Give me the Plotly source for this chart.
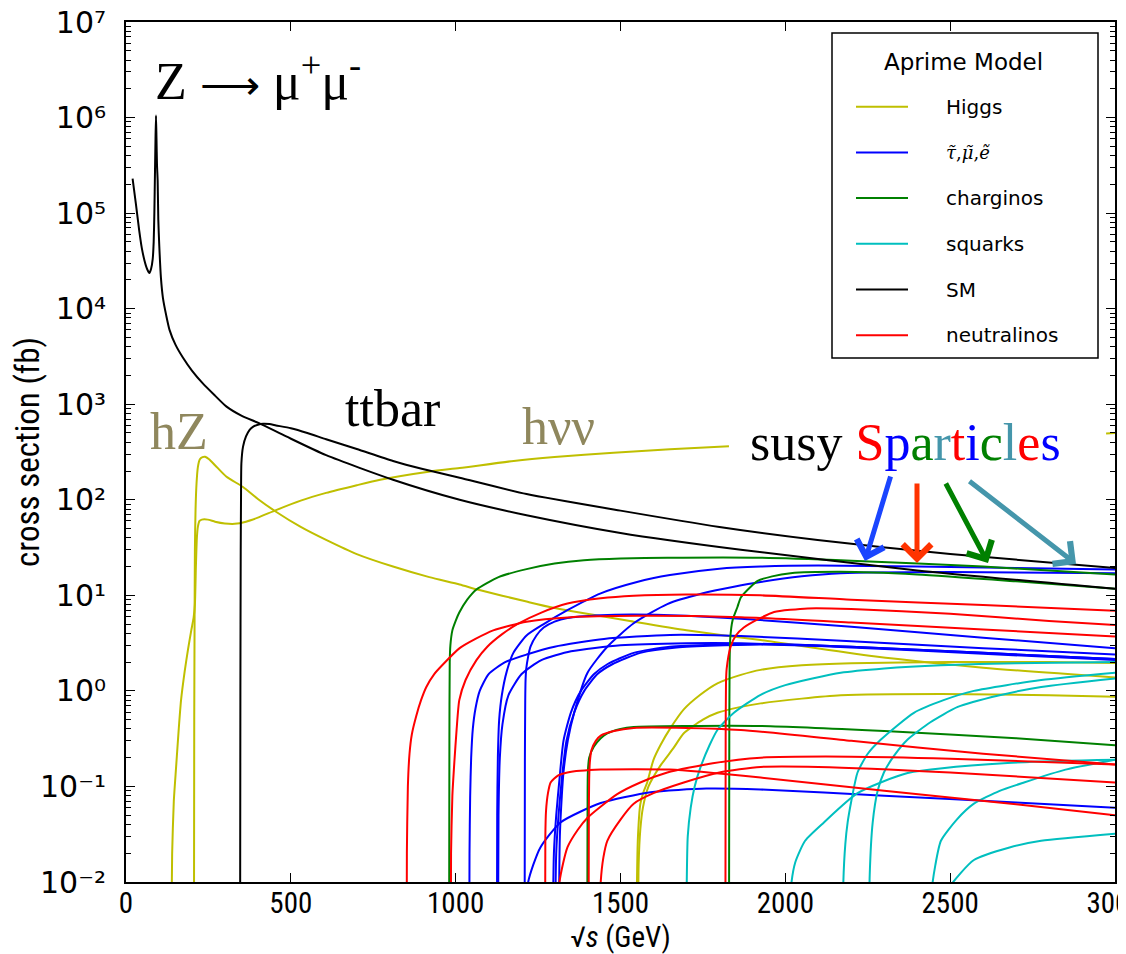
import plotly.graph_objects as go

# ---------------- data (sqrt(s) in GeV, cross section in fb) ----------------
# Standard Model
sm_zmumu = [(20, 2.3e5), (30, 1.25e5), (40, 6.6e4), (48, 4.3e4), (56, 3.2e4), (64, 2.6e4), (71, 2.36e4),
            (76, 2.6e4), (81, 3.3e4), (84, 5e4), (86, 1e5), (88, 2.8e5), (89.5, 6e5), (91, 1.05e6),
            (92.5, 6e5), (94, 3.2e5), (96, 2.2e5), (98, 8.5e4), (101, 4.5e4), (106, 2.1e4), (112, 1.3e4),
            (122, 8500), (132, 6000), (150, 4200), (172, 3100), (200, 2250), (233, 1650), (270, 1230),
            (304, 950), (350, 760), (405, 630), (486, 460), (607, 293), (810, 162), (1012, 100),
            (1215, 69), (1500, 45), (1865, 30), (2400, 18.2), (3000, 11.7)]
sm_ttbar = [(346, 1e-3), (347, 1), (348, 30), (349, 120), (350, 240), (355, 360), (364, 460), (375, 540),
            (385, 580), (400, 610), (416, 625), (435, 620), (455, 600), (500, 560), (550, 500), (607, 430),
            (700, 340), (810, 255), (900, 210), (1012, 170), (1215, 115), (1500, 77), (1800, 52),
            (2098, 38), (2500, 27), (3000, 19.3)]

# Higgs
higgs_hnn = [(136, 1e-3), (140, 0.02), (145, 0.07), (152, 0.16), (160, 0.4), (167, 0.8), (178, 1.6),
             (188, 2.7), (198, 4.3), (205, 5.8), (209, 8), (212, 20), (215, 40), (218, 52), (223, 60),
             (230, 62), (248, 62), (270, 59), (300, 56.5), (330, 56), (364, 59), (400, 65), (455, 78),
             (530, 98), (607, 118), (700, 142), (771, 162), (923, 198), (1012, 215), (1176, 255),
             (1300, 280), (1479, 310), (1650, 338), (1829, 363), (None, None), (2973, 495), (3000, 500)]
higgs_hz = [(206, 1e-3), (207, 0.5), (208, 5), (209, 30), (211, 80), (214, 150), (218, 220), (224, 265),
            (232, 280), (240, 282), (252, 265), (270, 230), (304, 175), (355, 136), (400, 102), (455, 75),
            (530, 52), (607, 38), (700, 27), (810, 20), (920, 15.5), (1012, 13), (1066, 11.5), (1215, 8.6),
            (1297, 7.4), (1540, 5.3), (1700, 4.3), (1925, 3.4), (2268, 2.3), (2600, 1.75), (3000, 1.38)]
higgs_a = [(1549, 1e-3), (1550, 0.01), (1553, 0.03), (1560, 0.065), (1571, 0.09), (1581, 0.11), (1600, 0.19),
           (1621, 0.27), (1650, 0.4), (1692, 0.64), (1740, 0.9), (1794, 1.2), (1865, 1.47), (1925, 1.66),
           (2050, 1.85), (2200, 1.95), (2500, 2.0), (2800, 2.0), (3000, 1.96)]
higgs_b = [(1553, 1e-3), (1555, 0.015), (1560, 0.035), (1568, 0.06), (1585, 0.1), (1621, 0.165), (1660, 0.25),
           (1692, 0.36), (1750, 0.5), (1794, 0.59), (1865, 0.68), (1925, 0.74), (2050, 0.83), (2168, 0.9),
           (2472, 0.93), (2800, 0.9), (3000, 0.87)]

# sleptons
slep_1 = [(1041, 1e-3), (1042, 0.02), (1044, 0.08), (1047, 0.2), (1052, 0.4), (1060, 0.65), (1073, 1.0),
          (1100, 1.5), (1150, 2.0), (1215, 2.4), (1300, 2.9), (1450, 3.5), (1650, 3.85), (1865, 3.75),
          (2200, 3.3), (2600, 2.8), (3000, 2.4)]
slep_2 = [(1125, 1e-3), (1126, 0.05), (1128, 0.2), (1132, 0.5), (1140, 0.9), (1155, 1.6), (1175, 2.5),
          (1215, 3.8), (1267, 5.0), (1339, 7.0), (1440, 10.5), (1550, 13.8), (1650, 16.3), (1800, 19),
          (1925, 20), (2100, 20.5), (2400, 20), (2700, 19.3), (3000, 18.6)]
slep_3 = [(1128, 1e-3), (1130, 0.05), (1134, 0.2), (1142, 0.45), (1160, 0.9), (1200, 1.5), (1260, 2.1),
          (1350, 2.6), (1500, 3.0), (1700, 3.15), (1865, 3.15), (2200, 2.9), (2600, 2.5), (3000, 2.15)]
slep_4 = [(1209, 1e-3), (1210, 0.2), (1211, 0.8), (1212, 1.3), (1214, 1.7), (1220, 2.3), (1227, 2.9),
          (1245, 3.8), (1267, 4.6), (1300, 5.3), (1339, 5.8), (1440, 6.2), (1540, 6.3), (1700, 6.1),
          (1865, 5.7), (2200, 4.7), (2600, 3.6), (3000, 2.8)]
slep_5 = [(1206, 1e-3), (1210, 0.005), (1220, 0.01), (1235, 0.015), (1257, 0.023), (1318, 0.042),
          (1440, 0.067), (1591, 0.087), (1760, 0.095), (1925, 0.093), (2300, 0.08), (2700, 0.068), (3000, 0.06)]
slep_6 = [(1293, 1e-3), (1298, 0.02), (1305, 0.05), (1315, 0.12), (1327, 0.3), (1350, 0.6), (1380, 1.0),
          (1420, 1.5), (1460, 1.9), (1540, 2.5), (1650, 2.9), (1925, 3.1), (2200, 2.9), (2600, 2.5), (3000, 2.15)]
slep_7 = [(1300, 1e-3), (1305, 0.02), (1312, 0.05), (1322, 0.12), (1336, 0.3), (1360, 0.6), (1390, 1.0),
          (1430, 1.5), (1475, 1.9), (1560, 2.5), (1670, 2.85), (1925, 3.05), (2200, 2.85), (2600, 2.45), (3000, 2.1)]
slep_8 = [(1312, 1e-3), (1316, 0.03), (1322, 0.08), (1327, 0.14), (1340, 0.3), (1360, 0.6), (1400, 1.55),
          (1460, 2.9), (1540, 5.1), (1642, 8.1), (1750, 10.5), (1844, 12.3), (1925, 13.8), (2050, 15.8),
          (2168, 17), (2500, 17.5), (3000, 17)]

# charginos
char_1 = [(980, 1e-3), (981, 0.3), (982, 2.0), (984, 3.0), (990, 4.3), (1000, 5.4), (1011, 6.6), (1035, 9),
          (1063, 11.5), (1130, 15.5), (1215, 18.8), (1300, 21.5), (1389, 23.3), (1500, 24.3), (1642, 24.7),
          (1925, 24.7), (2200, 23), (2600, 20), (3000, 16.5)]
char_2 = [(1399, 1e-3), (1400, 0.05), (1401, 0.14), (1405, 0.2), (1419, 0.26), (1440, 0.32), (1460, 0.36),
          (1500, 0.4), (1540, 0.42), (1700, 0.43), (1925, 0.43), (2300, 0.38), (2700, 0.32), (3000, 0.27)]
char_3 = [(1829, 1e-3), (1830, 0.3), (1831, 2), (1833, 3.6), (1840, 5.5), (1855, 7.6), (1865, 9.5),
          (1895, 12.3), (1916, 14.2), (1960, 15.8), (2016, 17), (2168, 17.6), (2400, 16.5), (2700, 14), (3000, 11.7)]

# squarks
sq_1 = [(1700, 1e-3), (1701, 0.01), (1704, 0.03), (1713, 0.06), (1725, 0.1), (1743, 0.16), (1770, 0.27),
        (1794, 0.39), (1844, 0.59), (1925, 0.91), (2000, 1.15), (2168, 1.55), (2300, 1.72), (2472, 1.86),
        (2700, 1.95), (3000, 2.0)]
sq_2 = [(2013, 1e-3), (2016, 0.008), (2030, 0.016), (2060, 0.027), (2117, 0.042), (2219, 0.085),
        (2371, 0.138), (2674, 0.176), (3000, 0.19)]
sq_3 = [(2174, 1e-3), (2176, 0.01), (2182, 0.025), (2189, 0.042), (2200, 0.07), (2219, 0.14), (2250, 0.22),
        (2290, 0.31), (2390, 0.59), (2480, 0.8), (2572, 1.0), (2776, 1.3), (3000, 1.55)]
sq_4 = [(2253, 1e-3), (2256, 0.012), (2265, 0.042), (2280, 0.09), (2299, 0.14), (2330, 0.21), (2371, 0.31),
        (2440, 0.47), (2523, 0.68), (2650, 0.9), (2776, 1.1), (3000, 1.35)]
sq_5 = [(2435, 1e-3), (2440, 0.006), (2455, 0.015), (2472, 0.027), (2520, 0.045), (2572, 0.066),
        (2650, 0.09), (2724, 0.11), (2850, 0.15), (3000, 0.19)]
sq_6 = [(2466, 1e-3), (2475, 0.005), (2500, 0.009), (2572, 0.017), (2680, 0.023), (2776, 0.027), (3000, 0.032)]

# neutralinos
neut_1 = [(851, 1e-3), (852, 0.02), (855, 0.1), (860, 0.22), (867, 0.35), (880, 0.54), (895, 0.8), (911, 1.1),
          (935, 1.5), (962, 1.9), (1012, 2.8), (1060, 3.5), (1114, 4.3), (1215, 5.3), (1350, 5.9), (1550, 6.1),
          (1865, 5.9), (2200, 5.2), (2600, 4.4), (3000, 3.7)]
neut_2 = [(985, 1e-3), (986, 0.02), (990, 0.08), (996, 0.18), (1003, 0.4), (1011, 0.8), (1030, 1.3),
          (1063, 2.1), (1096, 2.9), (1140, 3.9), (1187, 5.0), (1260, 6.6), (1339, 8.2), (1440, 9.3),
          (1540, 9.9), (1700, 10.2), (1925, 10), (2200, 9.0), (2600, 7.9), (3000, 6.9)]
neut_3 = [(1271, 1e-3), (1272, 0.03), (1274, 0.055), (1280, 0.085), (1288, 0.11), (1310, 0.13), (1339, 0.14),
          (1440, 0.15), (1650, 0.15), (1925, 0.124), (2300, 0.09), (2700, 0.065), (3000, 0.05)]
neut_4 = [(1306, 1e-3), (1315, 0.01), (1339, 0.023), (1370, 0.035), (1400, 0.047), (1490, 0.083),
          (1560, 0.11), (1642, 0.14), (1780, 0.175), (1925, 0.2), (2200, 0.205), (2500, 0.195), (3000, 0.17)]
neut_5 = [(1434, 1e-3), (1440, 0.01), (1448, 0.018), (1460, 0.027), (1500, 0.045), (1540, 0.066),
          (1600, 0.085), (1692, 0.11), (1800, 0.14), (1925, 0.16), (2100, 0.16), (2500, 0.14), (3000, 0.11)]
neut_6 = [(1403, 1e-3), (1404, 0.05), (1405, 0.12), (1407, 0.18), (1412, 0.24), (1425, 0.3), (1440, 0.34),
          (1480, 0.38), (1540, 0.41), (1700, 0.41), (1865, 0.39), (2200, 0.3), (2600, 0.22), (3000, 0.17)]
neut_7 = [(1818, 1e-3), (1819, 0.3), (1820, 1.2), (1822, 1.7), (1834, 2.9), (1850, 3.8), (1874, 4.6),
          (1925, 5.8), (1966, 6.7), (2068, 7.3), (2200, 7.2), (2500, 6.4), (2800, 5.4), (3000, 4.9)]

# groups in drawing / legend order
legend_names = ["Higgs", "<i>τ̃</i>,<i>μ̃</i>,<i>ẽ</i>", "charginos", "squarks", "SM", "neutralinos"]
legend_colors = ["#bfbf00", "#0000ff", "#008000", "#00bfbf", "#000000", "#ff0000"]
curve_groups = [
    [higgs_hnn, higgs_hz, higgs_a, higgs_b],
    [slep_1, slep_2, slep_3, slep_4, slep_5, slep_6, slep_7, slep_8],
    [char_1, char_2, char_3],
    [sq_1, sq_2, sq_3, sq_4, sq_5, sq_6],
    [sm_zmumu, sm_ttbar],
    [neut_1, neut_2, neut_3, neut_4, neut_5, neut_6, neut_7],
]

x_ticks = [0, 500, 1000, 1500, 2000, 2500, 3000]
y_exponents = list(range(-2, 8))
SUP = str.maketrans("-0123456789", "⁻⁰¹²³⁴⁵⁶⁷⁸⁹")
y_ticktext = ["10" + str(e).translate(SUP) for e in y_exponents]

# ---------------- figure geometry ----------------
PAGE_OFF = 8                       # default body margin of the html page
W, H = 1126 - PAGE_OFF, 954 - PAGE_OFF
PL, PT, PR, PB = 126, 22, 1115, 882   # plot area in screen pixels
ML, MT = PL - PAGE_OFF, PT - PAGE_OFF
PW, PH = PR - PL, PB - PT
MR, MB = W - ML - PW, H - MT - PH


def px(xp):
    return (xp - PL) / PW


def py(yp):
    return (PB - yp) / PH


fig = go.Figure()
for name, color, group in zip(legend_names, legend_colors, curve_groups):
    for curve in group:
        fig.add_trace(go.Scatter(
            x=[p[0] for p in curve], y=[p[1] for p in curve], mode="lines",
            line=dict(color=color, width=2, shape="spline", smoothing=0.6), showlegend=False,
            hoverinfo="skip", connectgaps=False, name=name))

narrow = "Liberation Sans Narrow, Roboto Condensed, Roboto"
fig.update_layout(
    width=W, height=H, margin=dict(l=ML, r=MR, t=MT, b=MB, autoexpand=False),
    paper_bgcolor="white", plot_bgcolor="white", showlegend=False,
    font=dict(family="DejaVu Sans", color="black"),
)
fig.update_xaxes(
    range=[0, 3000], tickmode="array", tickvals=x_ticks, ticktext=[str(v) for v in x_ticks],
    ticks="inside", ticklen=9, tickwidth=1.2, tickcolor="black", showgrid=False, zeroline=False,
    showline=True, linecolor="black", linewidth=2, mirror="allticks", automargin=False,
    tickfont=dict(family=narrow, size=29), ticklabelstandoff=-6, ticklabeloverflow="allow",
    title=dict(text="√<i>s</i> (GeV)", font=dict(family=narrow, size=29), standoff=9),
)
minor_vals = [m * 10.0 ** e for e in range(-2, 7) for m in range(2, 10)]
fig.update_yaxes(
    type="log", range=[-2, 7], tickmode="array", tickvals=[10.0 ** e for e in y_exponents],
    ticktext=y_ticktext,
    ticks="inside", ticklen=9, tickwidth=1.2, tickcolor="black", showgrid=False, zeroline=False,
    showline=True, linecolor="black", linewidth=2, mirror="allticks", automargin=False,
    minor=dict(tickmode="array", tickvals=minor_vals, ticks="inside", ticklen=5, tickcolor="black", showgrid=False),
    tickfont=dict(family="DejaVu Sans", size=30), ticklabelstandoff=12, ticklabeloverflow="allow",
    title=dict(text="cross section (fb)", font=dict(family=narrow, size=33), standoff=10),
)

# ---------------- text labels ----------------
serif = "Liberation Serif"
khaki = "#8f875d"
labels = [
    ("Z <span style='font-size:42px'>⟶</span> μ<sup>+</sup>μ<sup>-</sup>", 153, 77, "black"),
    ("hZ", 148, 431, khaki),
    ("ttbar", 343, 409, "black"),
    ("hνν", 520, 426, khaki),
]
for txt, xl, yc, col in labels:
    fig.add_annotation(text=txt, x=px(xl), y=py(yc), xref="paper", yref="paper", xanchor="left",
                       yanchor="middle", showarrow=False, font=dict(family=serif, size=52, color=col))

spart_letters = list("Sparticles")
spart_colors = ["#ff0000", "#0000ff", "#008000", "#4596ab"]
spart = "".join(f"<span style='color:{spart_colors[i % 4]}'>{c}</span>" for i, c in enumerate(spart_letters))
fig.add_annotation(text="susy " + spart, x=px(748), y=py(442), xref="paper", yref="paper", xanchor="left",
                   yanchor="middle", showarrow=False, font=dict(family=serif, size=52, color="black"))

# arrows (head pixel, tail pixel, colour)
arrows = [((865, 561), (891, 475), "#1a45ff"),
          ((917, 563), (917, 482), "#ff3300"),
          ((988, 563), (945, 482), "#008000"),
          ((1076, 564), (968, 480), "#4596ab")]
for (hx, hy), (tx, ty), col in arrows:
    fig.add_annotation(x=px(hx), y=py(hy), xref="paper", yref="paper", ax=tx - hx, ay=ty - hy,
                       axref="pixel", ayref="pixel", showarrow=True, arrowhead=4, arrowsize=1.1,
                       arrowwidth=5, arrowcolor=col, text="")

# ---------------- legend (drawn manually) ----------------
fig.add_shape(type="rect", xref="paper", yref="paper", x0=px(832), x1=px(1098), y0=py(358), y1=py(33),
              line=dict(color="black", width=1.5), fillcolor="white", layer="above")
fig.add_annotation(text="Aprime Model", x=px(963), y=py(62), xref="paper", yref="paper", showarrow=False,
                   xanchor="center", yanchor="middle", font=dict(family="DejaVu Sans", size=23))
for i, (name, col) in enumerate(zip(legend_names, legend_colors)):
    yy = 106.7 + i * 45.7
    fig.add_shape(type="line", xref="paper", yref="paper", x0=px(856), x1=px(908), y0=py(yy), y1=py(yy),
                  line=dict(color=col, width=2), layer="above")
    fnt = dict(family="DejaVu Sans", size=20)
    if i == 1:
        fnt = dict(family="DejaVu Serif", size=18)
    fig.add_annotation(text=name, x=px(944), y=py(yy), xref="paper", yref="paper", showarrow=False,
                       xanchor="left", yanchor="middle", font=fnt)

fig.write_html("out.html")
